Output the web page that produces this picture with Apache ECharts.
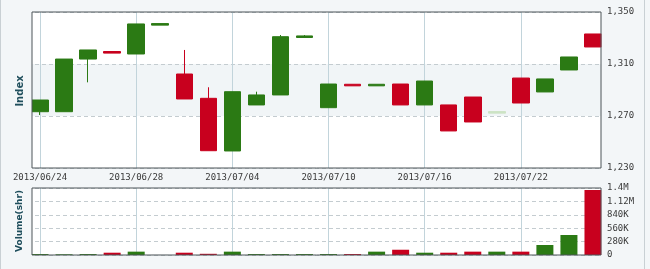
<!DOCTYPE html>
<html>
<head>
<meta charset="utf-8">
<script src="https://cdn.jsdelivr.net/npm/echarts@6/dist/echarts.min.js"></script>
<style>
html,body{margin:0;padding:0;background:#f3f6f8;}
#c{width:650px;height:269px;}
</style>
</head>
<body>
<div id="c"></div>
<script>
const dates = ['2013/06/24','2013/06/25','2013/06/26','2013/06/27','2013/06/28',
  '2013/07/01','2013/07/02','2013/07/03','2013/07/04','2013/07/05',
  '2013/07/08','2013/07/09','2013/07/10','2013/07/11','2013/07/12',
  '2013/07/15','2013/07/16','2013/07/17','2013/07/18','2013/07/19',
  '2013/07/22','2013/07/23','2013/07/24','2013/07/25'];
const opens  = [1273.3,1273.3,1313.8,1319.6,1317.7,1339.9,1302.3,1283.6,1243.1,1278.5,1286.2,1330.4,1276.4,1294.4,1293.2,1294.6,1278.5,1278.5,1284.6,1272.2,1299.2,1288.5,1305.4,1333.1];
const closes = [1282.3,1313.8,1320.8,1318.4,1340.8,1341.1,1283.1,1243.3,1288.7,1286.2,1331.0,1331.6,1294.6,1293.2,1294.4,1278.5,1296.9,1258.5,1265.4,1273.4,1280.0,1298.5,1315.4,1323.1];
const lows   = [1270.8,1273.3,1295.9,1318.4,1317.7,1339.9,1283.1,1243.3,1243.1,1278.5,1286.2,1330.4,1276.4,1293.2,1293.2,1278.5,1278.5,1258.5,1265.4,1272.2,1280.0,1288.5,1305.4,1323.1];
const highs  = [1282.3,1313.8,1320.8,1319.6,1340.8,1341.1,1320.8,1292.1,1288.7,1288.7,1332.3,1332.3,1294.6,1294.4,1294.4,1294.6,1296.9,1278.5,1284.6,1273.4,1299.2,1298.5,1315.4,1333.1];
const volumes = [20000,15000,20000,48000,70000,5000,48000,25000,70000,20000,20000,20000,20000,20000,70000,110000,48000,48000,70000,70000,70000,209000,418000,1360000];
const priceTicks = [1230,1270,1310,1350];
const volumeTickLabels = {0:'0',280000:'280K',560000:'560K',840000:'840K',1120000:'1.12M',1400000:'1.4M'};
const faintCandles = [19];
const faintVolumes = [5];

const UP = '#2b7a14', DOWN = '#c8001e', FAINT_UP = '#cde3c5', FAINT_VOL = '#dddddd';
const BG = '#f3f6f8';

const candleData = dates.map((d,i) => {
  const item = {value:[opens[i], closes[i], lows[i], highs[i]]};
  if (faintCandles.includes(i)) item.itemStyle = {color:FAINT_UP, borderColor:FAINT_UP, color0:FAINT_UP, borderColor0:FAINT_UP};
  return item;
});
const volData = volumes.map((v,i) => ({
  value: v,
  itemStyle: {color: faintVolumes.includes(i) ? FAINT_VOL : (closes[i] >= opens[i] ? UP : DOWN)}
}));

const chart = echarts.init(document.getElementById('c'), null, {renderer:'canvas'});
const GL = 28, GR = 45;
const labelFont = {fontFamily:'DejaVu Sans Mono', fontSize:9, color:'#3a3a3a'};
const splitEvery4 = (idx) => idx % 4 === 0;

chart.setOption({
  backgroundColor: BG,
  animation: false,
  grid: [
    {left:GL, right:GR, top:12, height:156},
    {left:GL, right:GR, top:188, height:67}
  ],
  xAxis: [
    {type:'category', gridIndex:0, data:dates, boundaryGap:true,
     axisLine:{show:false}, axisTick:{show:false},
     axisLabel:Object.assign({interval:splitEvery4, margin:5}, labelFont),
     splitLine:{show:true, interval:splitEvery4, alignWithLabel:true, lineStyle:{color:'#c2d4db', width:1}}},
    {type:'category', gridIndex:1, data:dates, boundaryGap:true,
     axisLine:{show:false}, axisTick:{show:false}, axisLabel:{show:false},
     splitLine:{show:true, interval:splitEvery4, alignWithLabel:true, lineStyle:{color:'#c2d4db', width:1}}}
  ],
  yAxis: [
    {type:'value', gridIndex:0, position:'right', min:priceTicks[0], max:priceTicks[priceTicks.length-1], interval:40,
     axisLine:{show:false}, axisTick:{show:false},
     axisLabel:Object.assign({margin:2, formatter:(v)=>v.toLocaleString('en-US')}, labelFont),
     splitLine:{show:true, lineStyle:{type:[4,3], color:'#c4ccd0'}},
     splitArea:{show:true, areaStyle:{color:['rgba(0,0,0,0)','#f1f5f7']}}},
    {type:'value', gridIndex:1, position:'right', min:0, max:1400000, interval:280000,
     axisLine:{show:false}, axisTick:{show:false},
     axisLabel:Object.assign({margin:2, formatter:(v)=>volumeTickLabels[v] !== undefined ? volumeTickLabels[v] : ''}, labelFont),
     splitLine:{show:true, lineStyle:{type:[4,3], color:'#c4ccd0'}}}
  ],
  series: [
    {type:'candlestick', xAxisIndex:0, yAxisIndex:0, data:candleData, barWidth:17, clip:true,
     itemStyle:{color:UP, borderColor:UP, color0:DOWN, borderColor0:DOWN, borderWidth:1}},
    {type:'bar', xAxisIndex:1, yAxisIndex:1, data:volData, barWidth:17}
  ],
  graphic: [
    {type:'rect', z:-10, shape:{x:32, y:12, width:569, height:156}, style:{fill:'#ffffff'}},
    {type:'rect', z:-10, shape:{x:32, y:188, width:569, height:67}, style:{fill:'#ffffff'}},
    {type:'rect', z:50, shape:{x:26, y:11, width:6, height:158}, style:{fill:BG}},
    {type:'rect', z:50, shape:{x:601.5, y:11, width:4, height:158}, style:{fill:BG}},
    {type:'rect', z:50, shape:{x:26, y:187, width:6, height:69}, style:{fill:BG}},
    {type:'rect', z:50, shape:{x:601.5, y:187, width:4, height:69}, style:{fill:BG}},
    {type:'rect', z:60, shape:{x:32, y:12, width:569, height:156}, style:{fill:null, stroke:'#4d5458', lineWidth:1}},
    {type:'rect', z:60, shape:{x:32, y:188, width:569, height:67}, style:{fill:null, stroke:'#4d5458', lineWidth:1}},
    {type:'rect', z:60, shape:{x:0.5, y:-1, width:644, height:271}, style:{fill:null, stroke:'#c9d0d4', lineWidth:1}},
    {type:'text', z:60, x:20, y:91, rotation:Math.PI/2, style:{text:'Index', font:'bold 10px DejaVu Sans', fill:'#1f4e5c', align:'center', verticalAlign:'middle'}},
    {type:'text', z:60, x:20, y:221, rotation:Math.PI/2, style:{text:'Volume(shr)', font:'bold 9px DejaVu Sans', fill:'#1f4e5c', align:'center', verticalAlign:'middle'}}
  ]
});
</script>
</body>
</html>
